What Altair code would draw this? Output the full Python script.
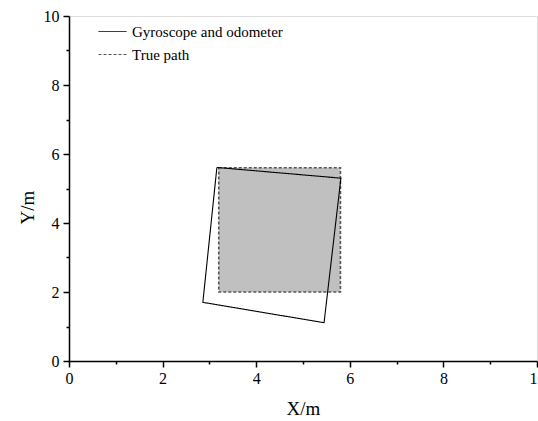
import altair as alt
import pandas as pd

# Data
series_names = ["Gyroscope and odometer", "True path"]
gyro_x = [3.16, 5.81, 5.45, 2.86, 3.16]
gyro_y = [5.61, 5.30, 1.11, 1.70, 5.61]
true_x = [3.2, 5.8, 5.8, 3.2, 3.2]
true_y = [5.6, 5.6, 2.0, 2.0, 5.6]
major_ticks = [0, 2, 4, 6, 8, 10]
minor_ticks = [1, 3, 5, 7, 9]

df_gyro = pd.DataFrame({"series": series_names[0], "order": range(len(gyro_x)),
                        "x": gyro_x, "y": gyro_y})
df_true = pd.DataFrame({"series": series_names[1], "order": range(len(true_x)),
                        "x": true_x, "y": true_y})
df_rect = pd.DataFrame({"x0": [min(true_x)], "x1": [max(true_x)],
                        "y0": [min(true_y)], "y1": [max(true_y)]})

FONT = "Liberation Serif"
xscale = alt.Scale(domain=[0, 10], nice=False, zero=False)
yscale = alt.Scale(domain=[0, 10], nice=False, zero=False)

axis_common = dict(grid=False, domainColor="black", tickColor="black",
                   labelColor="black", titleColor="black", domainWidth=1.5,
                   tickWidth=1.5, labelFont=FONT, titleFont=FONT,
                   labelFontSize=16, titleFontSize=19, titleFontWeight="normal",
                   labelFlush=False, format="d")

x_major = alt.Axis(values=major_ticks, orient="bottom", tickSize=6, labelPadding=3,
                   title="X/m", titleY=53, titleBaseline="alphabetic", **axis_common)
y_major = alt.Axis(values=major_ticks, orient="left", tickSize=6, labelPadding=4,
                   title="Y/m", titleX=-36, titleY=191, titleBaseline="alphabetic",
                   titleAngle=-90, **axis_common)
x_minor = alt.Axis(values=minor_ticks, orient="bottom", tickSize=3, labels=False,
                   domain=False, title=None, grid=False, tickColor="black", tickWidth=1.5)
y_minor = alt.Axis(values=minor_ticks, orient="left", tickSize=3, labels=False,
                   domain=False, title=None, grid=False, tickColor="black", tickWidth=1.5)

color_scale = alt.Scale(domain=series_names, range=["black", "#555555"])
dash_scale = alt.Scale(domain=series_names, range=[[1, 0], [3, 2]])
legend = alt.Legend(title=None, orient="none", legendX=29, legendY=1,
                    symbolType="stroke", symbolSize=784, symbolStrokeWidth=1,
                    labelFont=FONT, labelFontSize=15, labelColor="black",
                    labelOffset=5, rowPadding=-10, padding=0)

rect = alt.Chart(df_rect).mark_rect(fill="#C0C0C0", stroke=None).encode(
    x=alt.X("x0:Q", scale=xscale, axis=None),
    x2="x1:Q",
    y=alt.Y("y0:Q", scale=yscale, axis=None),
    y2="y1:Q",
)

true_line = alt.Chart(df_true).mark_line(strokeWidth=1.6).encode(
    x=alt.X("x:Q", scale=xscale, axis=x_major),
    y=alt.Y("y:Q", scale=yscale, axis=y_major),
    order="order:Q",
    color=alt.Color("series:N", scale=color_scale, legend=legend),
    strokeDash=alt.StrokeDash("series:N", scale=dash_scale, legend=legend),
)

gyro_line = alt.Chart(df_gyro).mark_line(strokeWidth=1.1).encode(
    x=alt.X("x:Q", scale=xscale, axis=None),
    y=alt.Y("y:Q", scale=yscale, axis=None),
    order="order:Q",
    color=alt.Color("series:N", scale=color_scale, legend=legend),
    strokeDash=alt.StrokeDash("series:N", scale=dash_scale, legend=legend),
)

minor = alt.Chart(df_true).mark_point(opacity=0).encode(
    x=alt.X("x:Q", scale=xscale, axis=x_minor),
    y=alt.Y("y:Q", scale=yscale, axis=y_minor),
)

chart = alt.layer(rect, true_line, gyro_line, minor).resolve_axis(
    x="independent", y="independent"
).properties(
    width=468, height=345,
    autosize=alt.AutoSizeParams(type="none"),
    padding={"left": 69, "top": 16, "right": 1, "bottom": 60},
).configure_view(stroke=None).configure(font=FONT)

chart.save("out.html", embed_options={"renderer": "svg", "actions": False})
